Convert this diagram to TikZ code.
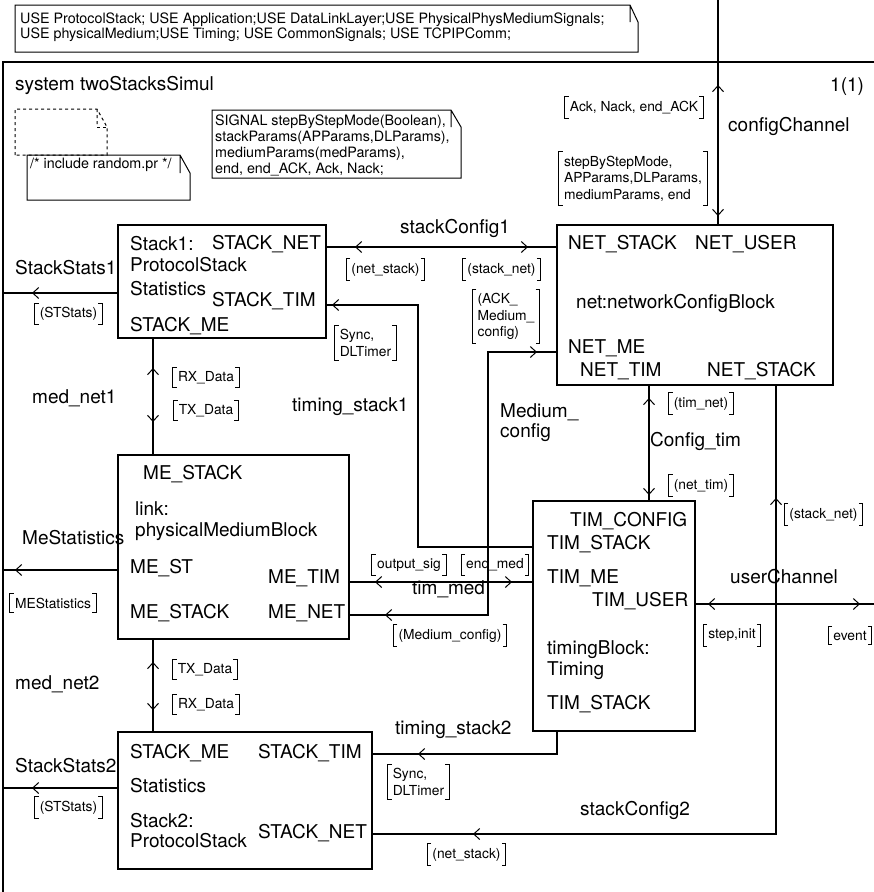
\documentclass[tikz,border=0pt]{standalone}
\usepackage{fontspec}
\setmainfont{TeX Gyre Heros}
\usetikzlibrary{arrows.meta,calc,decorations.markings}

\newcommand\blockfont{\fontsize{19}{21}\selectfont}
\newcommand\sigfont{\fontsize{13.8}{16.5}\selectfont}
\newcommand\notefont{\fontsize{14.3}{15.5}\selectfont}

% square brackets round a signal list
\newcommand\sigbrackets[1]{%
  \draw[line width=1pt]
    ($(#1.north west)+(4,0)$) -- (#1.north west) -- (#1.south west) -- ($(#1.south west)+(4,0)$)
    ($(#1.north east)+(-4,0)$) -- (#1.north east) -- (#1.south east) -- ($(#1.south east)+(-4,0)$);}
% text symbol with the folded corner
\newcommand\notefold[4][]{%
  \draw[line width=1pt,#1] (#2.south west) -- (#2.north west) -- ($(#2.north east)+(-#3,0)$)
    -- ($(#2.north east)+(0,#4)$) -- (#2.south east) -- cycle
    ($(#2.north east)+(-#3,0)$) -- ++(0,#4);}

\tikzset{
  barb/.tip={Straight Barb[length=6pt,width=11pt,line width=1pt]},
  blk/.style={draw, line width=1.1pt, anchor=north west, outer sep=0pt},
  gate/.style={anchor=base west, inner sep=0pt, font=\blockfont},
  chname/.style={anchor=base west, inner sep=0pt, font=\blockfont},
  siglist/.style={inner xsep=5pt, inner ysep=4pt, align=left, font=\sigfont},
  note/.style={anchor=north west, inner sep=0pt, outer sep=0pt},
  notetext/.style={anchor=north west, inner sep=0pt, align=left, font=\notefont},
  chan/.style={line width=1.1pt},
  tipto/.style={postaction={decorate,decoration={markings,
      mark=at position #1 with {\arrow{barb}}}}},
  tipback/.style={postaction={decorate,decoration={markings,
      mark=at position #1 with {\arrowreversed{barb}}}}},
}

\begin{document}
\begin{tikzpicture}[x=1pt, y=-1pt]
    \useasboundingbox (0,0) rectangle (874,892);
    \clip (0,0) rectangle (874,892);

    \node[blk, minimum width=900, minimum height=900] (sys) at (3,62) {};

    % text symbols
    \node[note, minimum width=623, minimum height=47] (uses) at (15,5) {};
    \node[notetext] (usestext) at (20,12.5) {USE ProtocolStack; USE Application;USE DataLinkLayer;USE PhysicalPhysMediumSignals;\\USE physicalMedium;USE Timing; USE CommonSignals; USE TCPIPComm;};
    \notefold{uses}{8}{17}
    \node[note, minimum width=92, minimum height=46] (prbox) at (15,109) {};
    \notefold[dashed]{prbox}{10}{18}
    \draw[line width=1pt, dashed] ($(prbox.north east)+(-10,18)$) -- ($(prbox.north east)+(0,18)$);
    \node[note, minimum width=163, minimum height=45] (incl) at (27,155) {};
    \node[notetext] (incltext) at (30,157.5) {/* include random.pr */};
    \notefold{incl}{10}{18}
    \node[note, minimum width=249, minimum height=68] (sigdecl) at (212,110) {};
    \node[notetext, font=\fontsize{14.3}{16}\selectfont] (sigtext) at (215,114.7) {SIGNAL stepByStepMode(Boolean),\\stackParams(APParams,DLParams),\\mediumParams(medParams),\\end, end\_ACK, Ack, Nack;};
    \notefold{sigdecl}{10}{17}

    % blocks
    \node[blk, minimum width=208, minimum height=113] (s1)  at (118,225) {};
    \node[blk, minimum width=276, minimum height=160] (net) at (557,225) {};
    \node[blk, minimum width=231, minimum height=184] (me)  at (118,455) {};
    \node[blk, minimum width=162, minimum height=230] (tim) at (533,501) {};
    \node[blk, minimum width=254, minimum height=137] (s2)  at (118,732) {};

    \node[gate, anchor=north west, align=left] (s1name) at (130,236.2) {Stack1:\\ProtocolStack};
    \node[gate] (s1net)  at (212,249.8) {STACK\_NET};
    \node[gate] (s1stat) at (130,295.8) {Statistics};
    \node[gate] (s1tim)  at (212,306.8) {STACK\_TIM};
    \node[gate] (s1me)   at (130,331.8) {STACK\_ME};

    \node[gate] (netstack)  at (568,249.8) {NET\_STACK};
    \node[gate] (netuser)   at (695,249.8) {NET\_USER};
    \node[gate] (netname)   at (576,308.8) {net:networkConfigBlock};
    \node[gate] (netme)     at (568,353.8) {NET\_ME};
    \node[gate] (nettim)    at (580,376.8) {NET\_TIM};
    \node[gate] (netstack2) at (707,376.8) {NET\_STACK};

    \node[gate] (mestack) at (143,479.8) {ME\_STACK};
    \node[gate, anchor=north west, align=left] (mename) at (135,501.2) {link:\\physicalMediumBlock};
    \node[gate] (mest)     at (130,573.8) {ME\_ST};
    \node[gate] (metim)    at (268,583.8) {ME\_TIM};
    \node[gate] (mestack2) at (130,618.8) {ME\_STACK};
    \node[gate] (menet)    at (268,618.8) {ME\_NET};

    \node[gate] (timcfg)   at (570,526.8) {TIM\_CONFIG};
    \node[gate] (timstack) at (547,549.8) {TIM\_STACK};
    \node[gate] (timme)    at (547,583.8) {TIM\_ME};
    \node[gate] (timuser)  at (592,606.8) {TIM\_USER};
    \node[gate, anchor=north west, align=left] (timname) at (547,640.2) {timingBlock:\\Timing};
    \node[gate] (timstack2) at (547,709.8) {TIM\_STACK};

    \node[gate] (s2me)   at (130,758.8) {STACK\_ME};
    \node[gate] (s2tim)  at (258,758.8) {STACK\_TIM};
    \node[gate] (s2stat) at (130,792.8) {Statistics};
    \node[gate, anchor=north west, align=left, font=\fontsize{19}{20}\selectfont] (s2name) at (130,813.2) {Stack2:\\ProtocolStack};
    \node[gate] (s2net)  at (258,838.8) {STACK\_NET};

    % channels
    \coordinate (cfgtop) at (718,0);
    \draw[chan, tipback=85pt, tipto=-9pt] (cfgtop) -- (cfgtop |- net.north);
    \draw[chan, tipback=29pt, tipto=-29pt] ($(s1.north east)+(0,22)$) -- ($(net.north west)+(0,22)$);
    \draw[chan, tipto=-29pt] ($(s1.north west)+(0,68)$) coordinate (ss1g) -- (ss1g -| sys.west);
    \draw[chan, tipto=-6pt] ($(tim.north west)+(0,46)$) -| ($(s1.north east)+(92,80)$) -- ($(s1.north east)+(0,80)$);
    \draw[chan, tipback=30pt, tipto=-33pt] ($(s1.south west)+(35,0)$) -- ($(me.north west)+(35,0)$);
    \draw[chan, tipback=20pt, tipto=-36pt] ($(net.north west)+(0,127)$) -| ($(me.north east)+(139,160)$) -- ($(me.north east)+(0,160)$);
    \draw[chan, tipback=26pt, tipto=-21pt] ($(me.north east)+(0,127)$) -- ($(tim.north west)+(0,81)$);
    \draw[chan, tipto=-12pt] ($(me.north west)+(0,115)$) coordinate (msg) -- (msg -| sys.west);
    \draw[chan, tipback=13pt, tipto=-6pt] ($(net.south west)+(92,0)$) -- ($(tim.north west)+(116,0)$);
    \draw[chan, tipback=13pt, tipto=-43pt] ($(tim.north east)+(0,103)$) coordinate (ucg) -- (ucg -| sys.east);
    \draw[chan, tipback=113pt, tipto=-101pt] ($(net.south west)+(219,0)$) |- ($(s2.north east)+(0,102)$);
    \draw[chan, tipto=-46pt] ($(tim.south west)+(24,0)$) |- ($(s2.north east)+(0,22)$);
    \draw[chan, tipback=23pt, tipto=-22pt] ($(me.south west)+(35,0)$) -- ($(s2.north west)+(35,0)$);
    \draw[chan, tipto=-29pt] ($(s2.north west)+(0,56)$) coordinate (ss2g) -- (ss2g -| sys.west);

    % names
    \node[chname] (sysname) at (15,90.8) {system twoStacksSimul};
    \node[chname] (pagenum) at (830,91.8) {1(1)};
    \node[chname] (cfgname) at (728,131.8) {configChannel};
    \node[chname] (sc1name) at (400,233.8) {stackConfig1};
    \node[chname] (ss1name) at (15,274.8) {StackStats1};
    \node[chname] (mn1name) at (32,403.8) {med\_net1};
    \node[chname] (ts1name) at (292,411.8) {timing\_stack1};
    \node[chname, anchor=north west, align=left, font=\fontsize{19}{20}\selectfont] (mcname) at (500,403.2) {Medium\_\\config};
    \node[chname] (ctname)  at (650,446.8) {Config\_tim};
    \node[chname] (msname)  at (22,544.8) {MeStatistics};
    \node[chname] (tmname)  at (412,594.8) {tim\_med};
    \node[chname] (ucname)  at (730,583.8) {userChannel};
    \node[chname] (mn2name) at (15,689.8) {med\_net2};
    \node[chname] (ts2name) at (395,734.8) {timing\_stack2};
    \node[chname] (ss2name) at (15,772.8) {StackStats2};
    \node[chname] (sc2name) at (580,815.8) {stackConfig2};

    % signal lists
    \node[siglist] (cfgup)  at (634,107.5) {Ack, Nack, end\_ACK};
    \node[siglist] (cfgdn)  at (633,178.5) {stepByStepMode,\\APParams,DLParams,\\mediumParams, end};
    \node[siglist] (sc1s)   at (385.5,269.5) {(net\_stack)};
    \node[siglist] (sc1n)   at (501.5,269.5) {(stack\_net)};
    \node[siglist] (ss1)    at (68.5,314) {(STStats)};
    \node[siglist] (ts1)    at (365.5,343) {Sync,\\DLTimer};
    \node[siglist] (mc1)    at (506,316.5) {(ACK\_\\Medium\_\\config)};
    \node[siglist] (mn1up)  at (206,377.5) {RX\_Data};
    \node[siglist] (mn1dn)  at (206,410.5) {TX\_Data};
    \node[siglist] (ctup)   at (701,403.5) {(tim\_net)};
    \node[siglist] (ctdn)   at (701,485.5) {(net\_tim)};
    \node[siglist] (sc2up)  at (823.5,514.5) {(stack\_net)};
    \node[siglist] (tmout)  at (409,565) {output\_sig};
    \node[siglist] (tmend)  at (495,565) {end\_med};
    \node[siglist] (msl)    at (53,603) {MEStatistics};
    \node[siglist] (mc2)    at (450,635.5) {(Medium\_config)};
    \node[siglist] (ucin)   at (732,635.5) {step,init};
    \node[siglist] (ucout)  at (850,635.5) {event};
    \node[siglist] (mn2up)  at (205,669.5) {TX\_Data};
    \node[siglist] (mn2dn)  at (206,704.5) {RX\_Data};
    \node[siglist] (ts2)    at (418.5,782) {Sync,\\DLTimer};
    \node[siglist] (ss2)    at (68.5,807.5) {(STStats)};
    \node[siglist] (sc2dn)  at (466.5,854.5) {(net\_stack)};
    \foreach \n in {cfgup,cfgdn,sc1s,sc1n,ss1,ts1,mc1,mn1up,mn1dn,ctup,ctdn,sc2up,
                    tmout,tmend,msl,mc2,ucin,ucout,mn2up,mn2dn,ts2,ss2,sc2dn}
      \sigbrackets{\n};
  \end{tikzpicture}
\end{document}
